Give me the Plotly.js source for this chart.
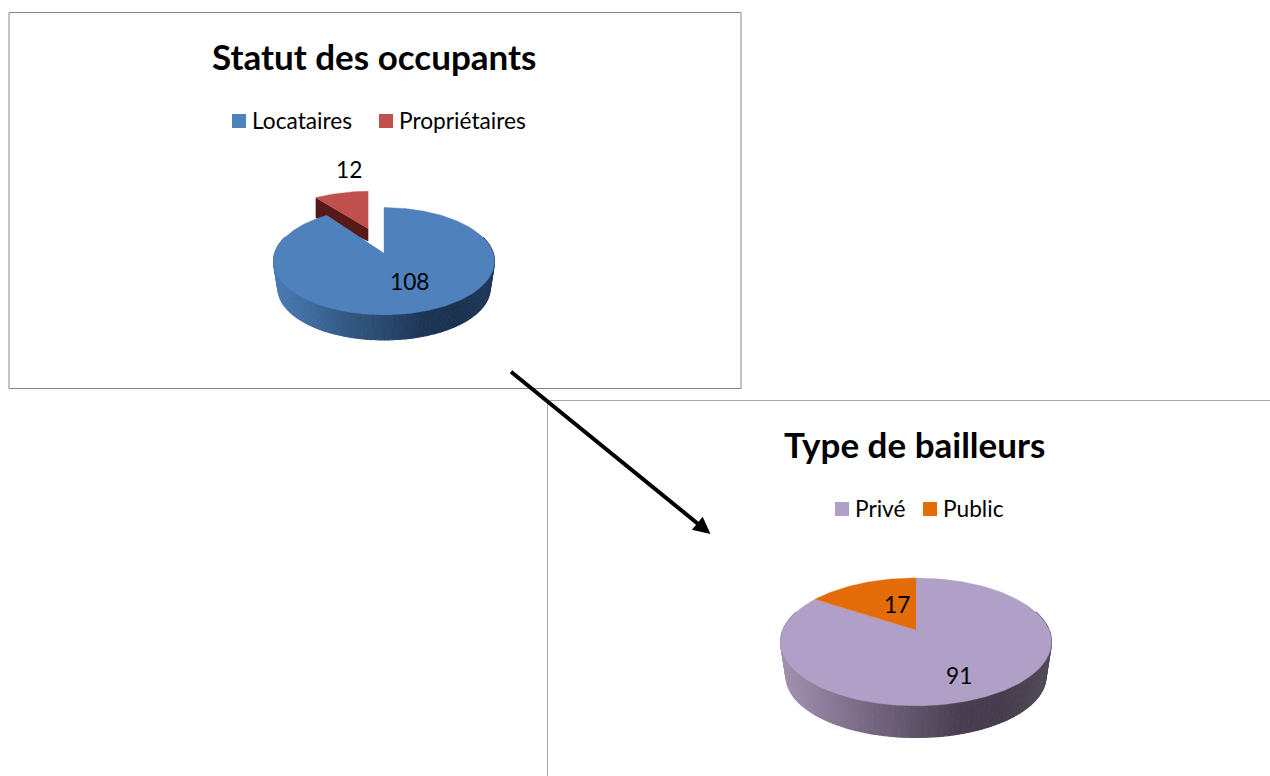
<!DOCTYPE html>
<html>
<head>
<meta charset="utf-8">
<script src="https://cdn.plot.ly/plotly-3.0.1.min.js"></script>
<style>html,body{margin:0;padding:0;background:#fff;overflow:hidden}#chart{width:1270px;height:776px}</style>
</head>
<body>
<div id="chart"></div>
<script>
// ---- data ----
const occupantTitle = "Statut des occupants";
const occupantLabels = ["Locataires", "Propriétaires"];
const occupantValues = [108, 12];
const occupantColors = ["#4F81BD", "#C0504D"];

const bailleurTitle = "Type de bailleurs";
const bailleurLabels = ["Privé", "Public"];
const bailleurValues = [91, 17];
const bailleurColors = ["#B09FC6", "#E36C09"];

// ---- page geometry (pixels) ----
const FONT = "Lato, Carlito, sans-serif";
const TITLE_SIZE = 35, TEXT_SIZE = 22.7;

function project(g, frac, level) {
  const t = 2 * Math.PI * frac, u = Math.sin(t), v = Math.cos(t), d = 1 + g.k * v;
  const s = level ? g.bottomScale : 1;
  return [g.cx + g.X * s * u / d, g.cy - g.H * s * v / d + (level ? g.drop : 0)];
}
function arc(g, a, b, level) {
  const n = Math.max(2, Math.ceil(Math.abs(b - a) * 360)), pts = [];
  for (let i = 0; i <= n; i++) pts.push(project(g, a + (b - a) * i / n, level));
  return pts;
}
function poly(pts, color, width) {
  return {
    type: "scatter", mode: "lines", fill: "toself", fillcolor: color,
    x: pts.map(p => p[0]), y: pts.map(p => p[1]),
    line: {color: color, width: width === undefined ? 0.4 : width},
    hoverinfo: "skip", showlegend: false
  };
}
function hex(c) { return [1, 3, 5].map(i => parseInt(c.substr(i, 2), 16)); }
function ramp(stops, f) {
  const p = Math.min(stops.length - 1.0001, Math.max(0, f) * (stops.length - 1)), i = Math.floor(p), w = p - i;
  const a = hex(stops[i]), b = hex(stops[i + 1]);
  return "rgb(" + a.map((x, j) => Math.round(x + (b[j] - x) * w)).join(",") + ")";
}
function wall(g, stops) {
  const out = [], N = 110, a = 0.2, b = 0.8;
  for (let i = 0; i < N; i++) {
    const f1 = b - (b - a) * i / N, f2 = b - (b - a) * (i + 1) / N;
    const top = arc(g, f1, f2, 0), bot = arc(g, f1, f2, 1).reverse();
    const xm = (top[0][0] + top[top.length - 1][0]) / 2;
    const fx = (xm - (g.cx - g.X * 1.01)) / (2 * g.X * 1.01);
    out.push(poly(top.concat(bot), ramp(stops, fx), 1.2));
  }
  return out;
}

const geoBlue = {cx: 384, cy: 253, X: 109.2, H: 52.4, k: 0.153, bottomScale: 0.96, drop: 27.5};
const geoRed  = {cx: 368.3, cy: 228.7, X: 100, H: 43, k: 0.15, bottomScale: 1, drop: 12.5, outerDrop: 20};
const geoPie2 = {cx: 916, cy: 630, X: 133.1, H: 61.7, k: 0.186, bottomScale: 0.96, drop: 34.7};

const blueStops = ["#4A7BB3", "#3F6A9C", "#335881", "#294A6E", "#1E3757", "#1B3250", "#20395A"];
const pie2Stops = ["#A090AE", "#8C7B98", "#756680", "#5F5369", "#483E50", "#453C4C", "#514A58"];

const traces = [];

// Chart 1: exploded red slice, then the blue wall and face
const total1 = occupantValues[0] + occupantValues[1];
const split1 = occupantValues[0] / total1;
const redApex = [geoRed.cx, geoRed.cy];
const redOuter = project(geoRed, split1, 0);
traces.push(poly([redApex, redOuter, [redOuter[0], redOuter[1] + geoRed.outerDrop], [geoRed.cx, geoRed.cy + geoRed.drop]], "#561A18"));
traces.push(poly([redApex].concat(arc(geoRed, split1, 1, 0)), occupantColors[1]));
traces.push(...wall(geoBlue, blueStops));
traces.push(poly([[geoBlue.cx, geoBlue.cy]].concat(arc(geoBlue, 0, split1, 0)), occupantColors[0]));

// Chart 2
const total2 = bailleurValues[0] + bailleurValues[1];
const split2 = bailleurValues[0] / total2;
traces.push(...wall(geoPie2, pie2Stops));
traces.push(poly([[geoPie2.cx, geoPie2.cy]].concat(arc(geoPie2, 0, split2, 0)), bailleurColors[0]));
traces.push(poly([[geoPie2.cx, geoPie2.cy]].concat(arc(geoPie2, split2, 1, 0)), bailleurColors[1]));

// Legend swatches
traces.push({
  type: "scatter", mode: "markers", hoverinfo: "skip", showlegend: false,
  x: [239, 386, 842, 930], y: [121, 121, 509, 509],
  marker: {symbol: "square", size: 14, color: occupantColors.concat(bailleurColors), line: {width: 0}}
});

function label(text, x, y, size, bold, anchor) {
  return {
    text: bold ? "<b>" + text + "</b>" : text, x: x, y: y, xref: "x", yref: "y",
    xanchor: anchor || "center", yanchor: "middle", showarrow: false,
    font: {family: FONT, size: size, color: "#000"}
  };
}
const annotations = [
  label(occupantTitle, 374.5, 56, TITLE_SIZE, true),
  label(bailleurTitle, 914, 444, TITLE_SIZE, true),
  label(occupantLabels[0], 250, 120, TEXT_SIZE, false, "left"),
  label(occupantLabels[1], 397, 120, TEXT_SIZE, false, "left"),
  label(bailleurLabels[0], 853, 508, TEXT_SIZE, false, "left"),
  label(bailleurLabels[1], 941, 508, TEXT_SIZE, false, "left"),
  label(String(occupantValues[0]), 409, 281.5, TEXT_SIZE),
  label(String(occupantValues[1]), 348.5, 169.5, TEXT_SIZE),
  label(String(bailleurValues[0]), 958.5, 675.5, TEXT_SIZE),
  label(String(bailleurValues[1]), 896.5, 604.5, TEXT_SIZE),
  {x: 710.5, y: 534, ax: 509.5, ay: 370.5, xref: "x", yref: "y", axref: "x", ayref: "y",
   text: "", showarrow: true, arrowhead: 2, arrowsize: 0.85, arrowwidth: 4, arrowcolor: "#000"}
];

const shapes = [
  {type: "rect", xref: "x", yref: "y", x0: 9, x1: 741, y0: 12.5, y1: 388.5, line: {color: "#868686", width: 1}, layer: "below"},
  {type: "line", xref: "x", yref: "y", x0: 547.5, x1: 1270, y0: 400.5, y1: 400.5, line: {color: "#a6a6a6", width: 1}, layer: "below"},
  {type: "line", xref: "x", yref: "y", x0: 547.5, x1: 547.5, y0: 400.5, y1: 776, line: {color: "#a6a6a6", width: 1}, layer: "below"}
];

Plotly.newPlot("chart", traces, {
  width: 1270, height: 776, margin: {l: 0, r: 0, t: 0, b: 0},
  paper_bgcolor: "#fff", plot_bgcolor: "#fff", showlegend: false, hovermode: false,
  xaxis: {range: [0, 1270], visible: false, fixedrange: true},
  yaxis: {range: [776, 0], visible: false, fixedrange: true},
  annotations: annotations, shapes: shapes
}, {displayModeBar: false, staticPlot: true});
</script>
</body>
</html>
